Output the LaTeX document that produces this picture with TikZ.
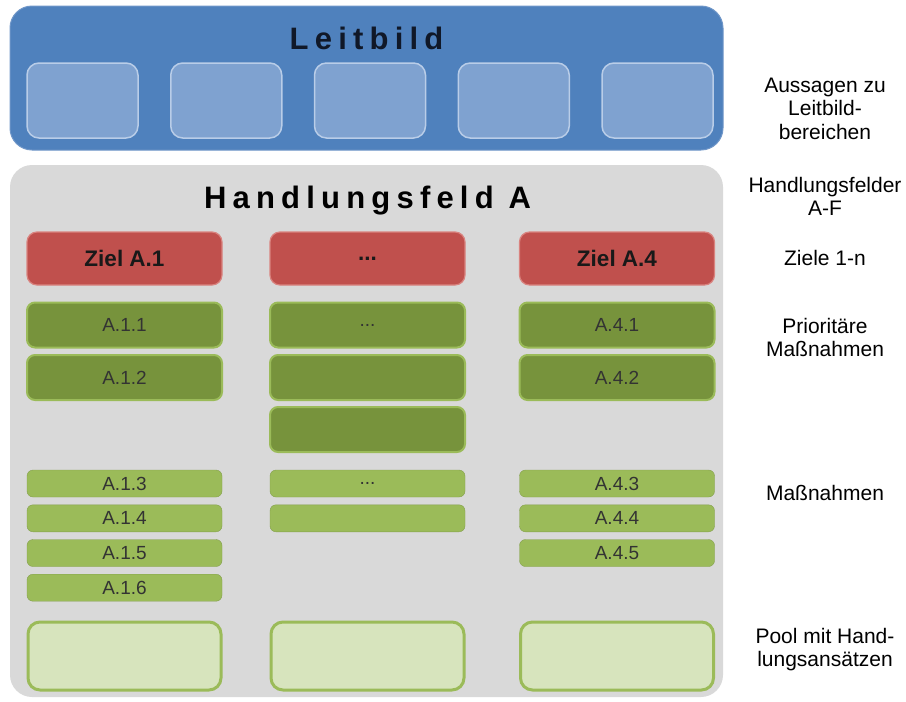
\documentclass[tikz,border=0pt]{standalone}
\usepackage{fontspec}
\setmainfont{Liberation Sans}
\newfontfamily\titlefont[LetterSpace=20]{Liberation Sans}
\definecolor{leitblue}{HTML}{4F81BD}
\definecolor{leitedge}{HTML}{6F96C8}
\definecolor{leitnavy}{HTML}{101828}
\definecolor{aussagefill}{HTML}{7FA2D0}
\definecolor{aussageedge}{HTML}{B9CDE8}
\definecolor{feldgray}{HTML}{D9D9D9}
\definecolor{zielred}{HTML}{C0504D}
\definecolor{zieledge}{HTML}{D9837F}
\definecolor{priogreen}{HTML}{77933C}
\definecolor{massgreen}{HTML}{9BBB59}
\definecolor{poolgreen}{HTML}{D7E4BD}
\begin{document}
\begin{tikzpicture}[x=1pt,y=-1pt,
  leitbox/.style={fill=leitblue, draw=leitedge, line width=1pt, rounded corners=22pt, minimum width=713pt, minimum height=144pt, inner sep=0pt},
  aussage/.style={fill=aussagefill, draw=aussageedge, line width=1.5pt, rounded corners=12pt, minimum width=111pt, minimum height=75pt, inner sep=0pt},
  feldbox/.style={fill=feldgray, rounded corners=22pt, minimum width=713pt, minimum height=532pt, inner sep=0pt},
  titletext/.style={anchor=base, inner sep=0pt, font=\titlefont\bfseries\fontsize{31}{34}\selectfont},
  ziel/.style={fill=zielred, draw=zieledge, line width=1.2pt, rounded corners=10pt, minimum width=195pt, minimum height=53pt, inner sep=0pt, text=black!90, font=\bfseries\fontsize{22.5}{24}\selectfont},
  prio/.style={fill=priogreen, draw=massgreen, line width=2pt, rounded corners=8pt, minimum width=195pt, minimum height=45pt, inner sep=0pt, text=black!80, font=\fontsize{19}{21}\selectfont},
  mass/.style={fill=massgreen, draw=massgreen!85!black, line width=0.4pt, rounded corners=6pt, minimum width=195pt, minimum height=27pt, inner sep=0pt, text=black!80, font=\fontsize{19}{21}\selectfont},
  pool/.style={fill=poolgreen, draw=massgreen, line width=3pt, rounded corners=12pt, minimum width=193pt, minimum height=68pt, inner sep=0pt},
  ebene/.style={align=center, inner sep=0pt, font=\fontsize{21}{23.5}\selectfont}]
\useasboundingbox (0,0) rectangle (906,702);

\node[leitbox] (leitbild) at (366.5,78) {};
\node[titletext, text=leitnavy] (leittitel) at (366.5,49) {Leitbild};
\foreach \i in {1,...,5}
  \node[aussage] (aussage\i) at ({82.5+143.75*(\i-1)},100.5) {};

\node[feldbox] (feld) at (366.5,431) {};
\node[titletext] (feldtitel) at (367.5,208) {Handlungsfeld A};

\node[ziel] (zielA1) at (124.5,258.5) {Ziel A.1};
\node[ziel] (zielX) at (367.5,258.5) {...};
\node[ziel] (zielA4) at (617,258.5) {Ziel A.4};

\node[prio] (A11) at (124.5,325) {A.1.1};
\node[prio] (A12) at (124.5,377.5) {A.1.2};
\node[prio] (X1) at (367.5,325) {...};
\node[prio] (X2) at (367.5,377.5) {};
\node[prio] (X3) at (367.5,429.5) {};
\node[prio] (A41) at (617,325) {A.4.1};
\node[prio] (A42) at (617,377.5) {A.4.2};

\node[mass] (A13) at (124.5,483.5) {A.1.3};
\node[mass] (A14) at (124.5,518.3) {A.1.4};
\node[mass] (A15) at (124.5,553) {A.1.5};
\node[mass] (A16) at (124.5,587.7) {A.1.6};
\node[mass] (X4) at (367.5,483.5) {...};
\node[mass] (X5) at (367.5,518.3) {};
\node[mass] (A43) at (617,483.5) {A.4.3};
\node[mass] (A44) at (617,518.3) {A.4.4};
\node[mass] (A45) at (617,553) {A.4.5};

\node[pool] (pool1) at (124.5,656) {};
\node[pool] (pool2) at (367.5,656) {};
\node[pool] (pool3) at (617,656) {};

\node[ebene] (aussagen) at (825,108.5) {Aussagen zu\\Leitbild-\\bereichen};
\node[ebene] (felder) at (825,196.5) {Handlungsfelder\\A-F};
\node[ebene] (ziele) at (825,257.5) {Ziele 1-n};
\node[ebene] (prioritaer) at (825,337.5) {Prioritäre\\Maßnahmen};
\node[ebene] (massnahmen) at (825,493) {Maßnahmen};
\node[ebene] (ansaetze) at (825,649.5) {Pool mit Hand-\\lungsansätzen};
\end{tikzpicture}
\end{document}
